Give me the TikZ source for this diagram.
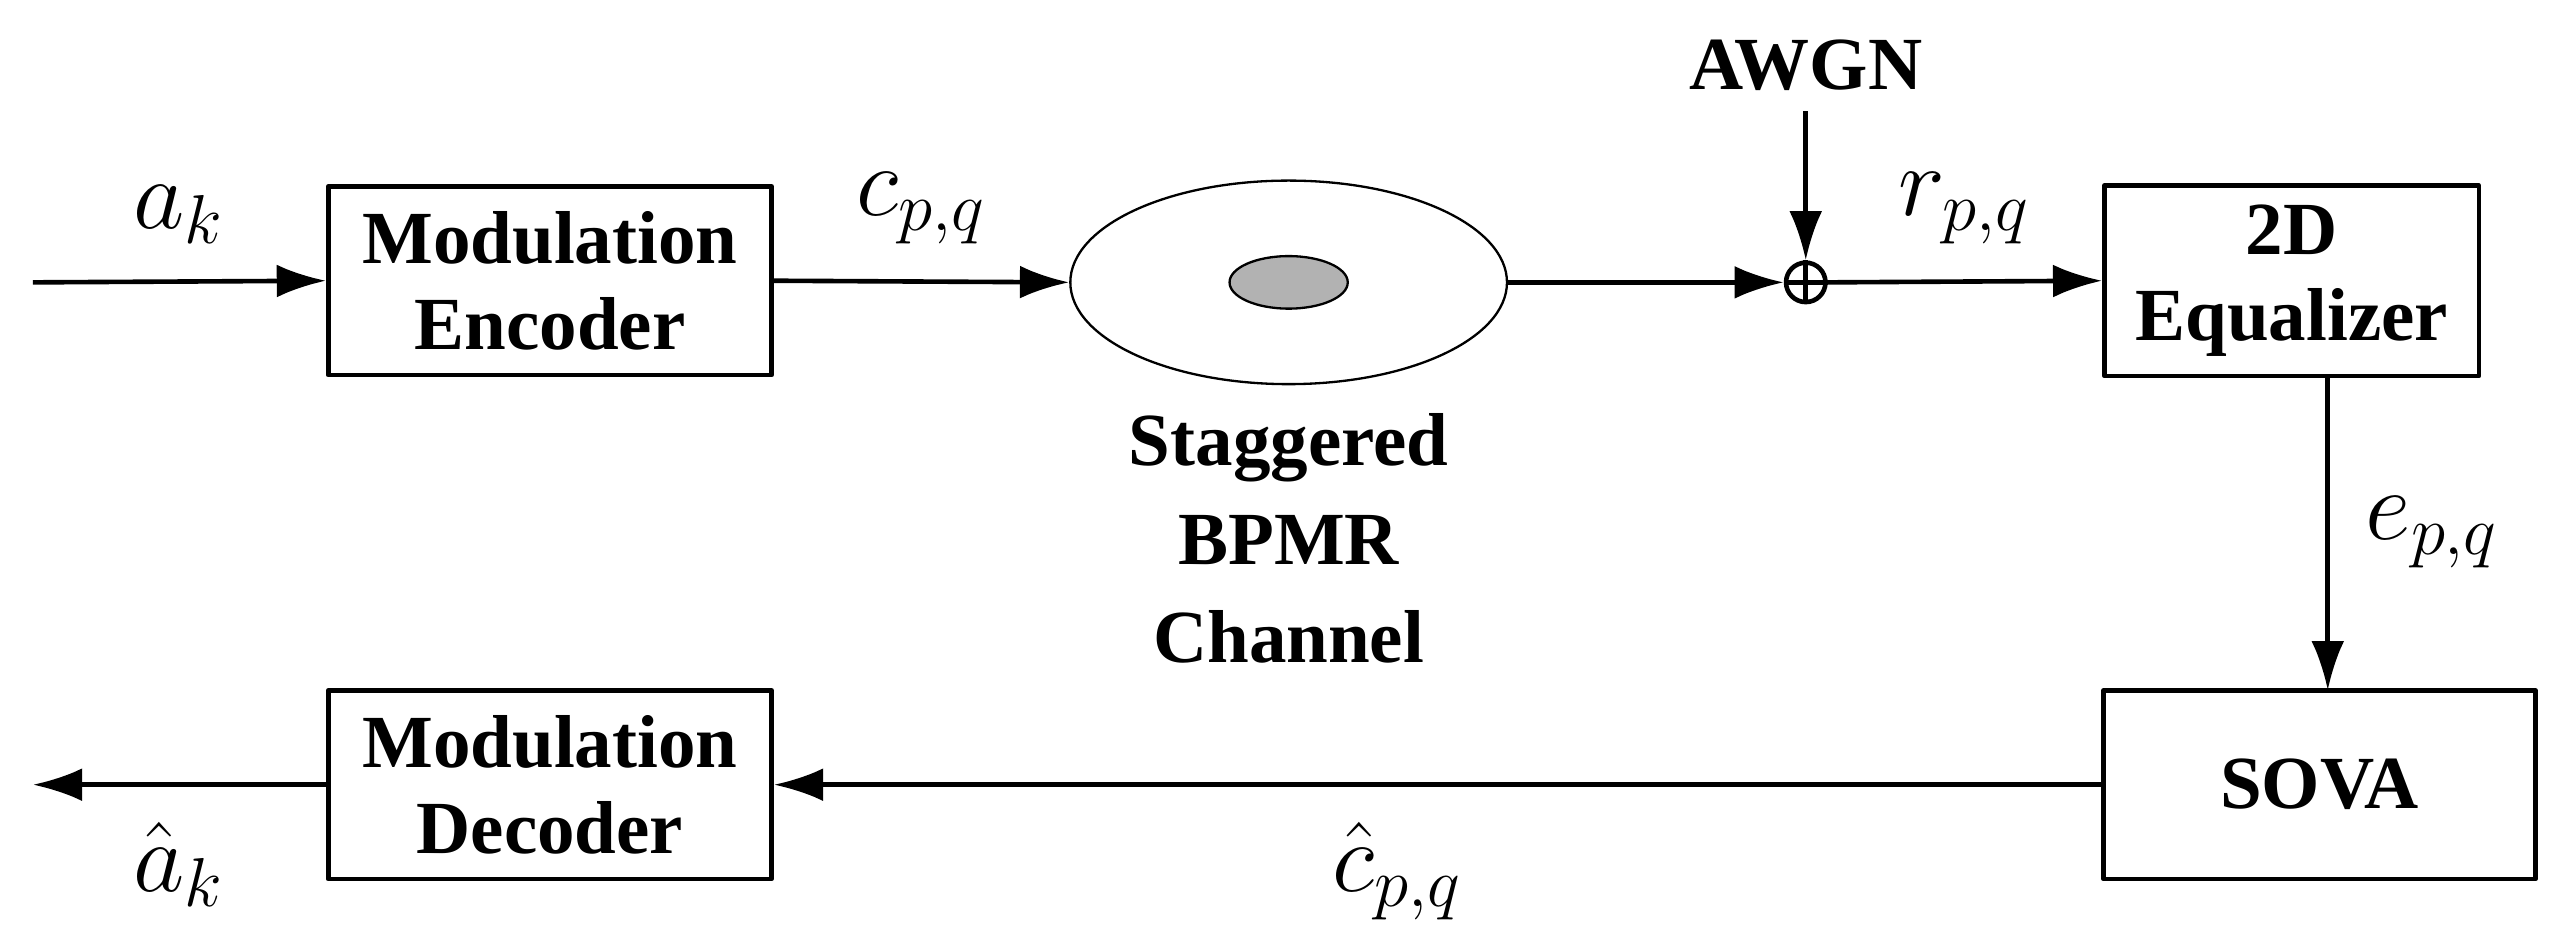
\documentclass[tikz,border=0pt]{standalone}
\usepackage{fontspec}
\setmainfont{Liberation Serif}
\usetikzlibrary{positioning,shapes.geometric,arrows.meta}
\begin{document}
\begin{tikzpicture}[line join=round,
  blk/.style={draw,thick,minimum height=1.15cm,align=center,font=\bfseries\fontsize{13}{15}\selectfont},
  sig/.style={thick,-{Latex[length=3mm,width=2mm]}},
  lbl/.style={font=\fontsize{18}{18}\selectfont}]
\useasboundingbox (0,0) rectangle (15.68,5.79);

%Bloecke
\node[blk,minimum width=2.7cm] (enc) at (3.35,4.08) {Modulation\\Encoder};
\node[blk,minimum width=2.28cm] (eq) at (13.96,4.08) {2D\\Equalizer};
\node[blk,minimum width=2.63cm] (sova) at (14.13,1.01) {SOVA};
\node[blk,minimum width=2.7cm] (dec) at (3.35,1.01) {Modulation\\Decoder};

%Kanal
\node[draw,ellipse,minimum width=2.66cm,minimum height=1.24cm] (ch) at (7.85,4.07) {};
\draw[fill=gray!60] (ch.center) ellipse (0.36 and 0.16);
\node[align=center,font=\bfseries\fontsize{13}{17}\selectfont,below=0.05cm of ch] (chtxt) {Staggered\\BPMR\\Channel};

%Rauschen
\node[draw,thick,circle,inner sep=0pt,minimum size=0.24cm] (sum) at (11.0,4.07) {};
\draw[thick] (sum.north) -- (sum.south) (sum.west) -- (sum.east);
\node[font=\bfseries\fontsize{13}{15}\selectfont] (awgn) at (11.0,5.39) {AWGN};

\coordinate (in) at (0.2,4.07);
\coordinate (out) at (0.2,1.01);
\coordinate (eqs) at (14.18,3.505);
\coordinate (sovn) at (14.18,1.585);

%Signale
\draw[sig] (in) -- (enc.west) node[lbl,midway,above=1mm] {$a_k$};
\draw[sig] (enc.east) -- (ch.west) node[lbl,midway,above=1mm] {$c_{p,q}$};
\draw[sig] (ch.east) -- (sum.west);
\draw[sig] (awgn.south) -- (sum.north);
\draw[sig] (sum.east) -- (eq.west) node[lbl,midway,above=1mm] {$r_{p,q}$};
\draw[sig] (eqs) -- (sovn) node[lbl,midway,right=1mm] {$e_{p,q}$};
\draw[sig] (sova.west) -- (dec.east) node[lbl,pos=0.53,below=1mm] {$\hat{c}_{p,q}$};
\draw[sig] (dec.west) -- (out) node[lbl,midway,below=1mm] {$\hat{a}_k$};
\end{tikzpicture}
\end{document}
